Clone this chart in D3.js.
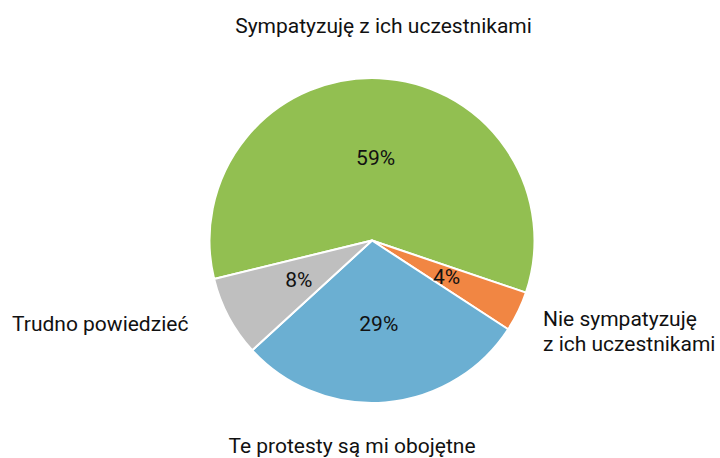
<!DOCTYPE html>
<html><head><meta charset="utf-8">
<script src="https://cdn.jsdelivr.net/npm/d3@7"></script>
<style>body{margin:0;background:#fff}svg{display:block}text{font-family:Roboto,sans-serif;fill:#111}</style>
</head><body>
<svg id="c" width="720" height="458"></svg>
<script>
const categories = ["Sympatyzuję z ich uczestnikami", "Nie sympatyzuję z ich uczestnikami", "Te protesty są mi obojętne", "Trudno powiedzieć"];
const values = [59, 4, 29, 8];
const valueLabels = ["59%", "4%", "29%", "8%"];
const colors = ["#92BF51", "#F18643", "#6BAFD2", "#BFBFBF"];

const svg = d3.select("#c");
const cx = 372, cy = 240.5, R = 162.5;
const g = svg.append("g").attr("transform", `translate(${cx},${cy})`);
const start = -103.7 * Math.PI / 180;
const pie = d3.pie().sort(null).value(d => d).startAngle(start).endAngle(start + 2 * Math.PI);
const arcs = pie(values);
const arc = d3.arc().innerRadius(0).outerRadius(R);
g.selectAll("path").data(arcs).join("path")
  .attr("d", arc).attr("fill", (d, i) => colors[i])
  .attr("stroke", "#fff").attr("stroke-width", 2).attr("stroke-linejoin", "round");

const inner = d3.arc().innerRadius(83).outerRadius(83);
g.selectAll("text.v").data(arcs).join("text").attr("class", "v")
  .attr("transform", d => `translate(${inner.centroid(d)})`)
  .attr("text-anchor", "middle").attr("dy", "0.35em")
  .style("font-size", "21px").text((d, i) => valueLabels[i]);

// outer category labels (baseline positions)
const outerPos = [
  {x: 383.5, y: 33, anchor: "middle", lines: ["Sympatyzuję z ich uczestnikami"]},
  {x: 543, y: 326, anchor: "start", lines: ["Nie sympatyzuję", "z ich uczestnikami"]},
  {x: 352, y: 453, anchor: "middle", lines: ["Te protesty są mi obojętne"]},
  {x: 12, y: 331, anchor: "start", lines: ["Trudno powiedzieć"]}
];
outerPos.forEach((p, i) => {
  const t = svg.append("text").attr("x", p.x).attr("y", p.y).attr("text-anchor", p.anchor)
    .style("font-size", "21px");
  p.lines.forEach((l, j) => t.append("tspan").attr("x", p.x).attr("dy", j === 0 ? 0 : 25).text(l));
});
</script>
</body></html>
